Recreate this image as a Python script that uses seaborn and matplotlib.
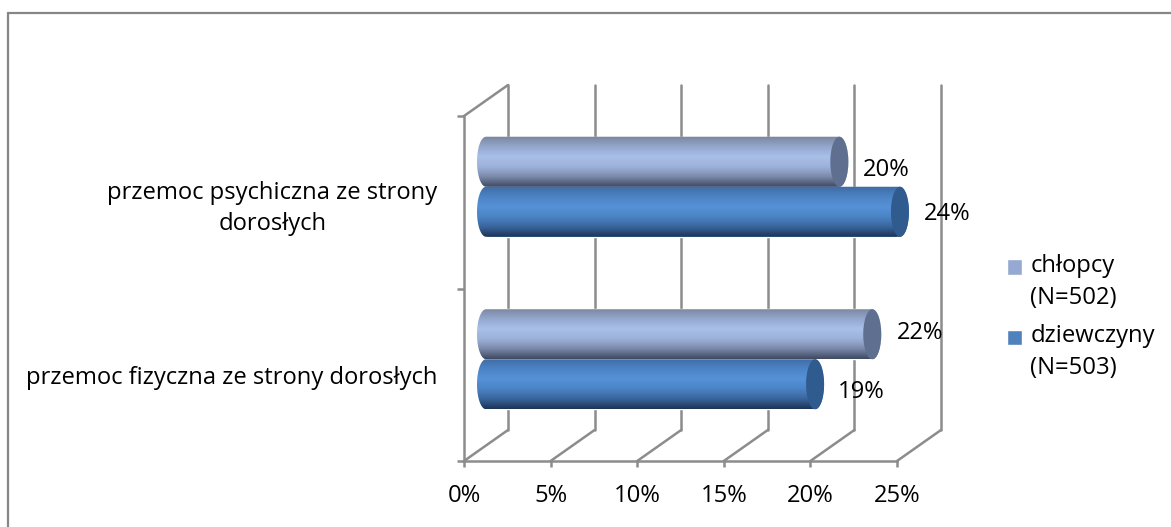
import numpy as np
import pandas as pd
import matplotlib
matplotlib.use("Agg")
import matplotlib.pyplot as plt
import seaborn as sns
from matplotlib.colors import LinearSegmentedColormap
from matplotlib.lines import Line2D
from matplotlib.path import Path
from matplotlib.patches import Ellipse
from matplotlib.transforms import Affine2D

sns.set_theme(style="white")
plt.rcParams['font.family'] = ['Open Sans', 'DejaVu Sans']

# data
categories = ["przemoc psychiczna ze strony\ndorosłych", "przemoc fizyczna ze strony dorosłych"]
series_names = ["chłopcy\n(N=502)", "dziewczyny\n(N=503)"]
chlopcy = [20.4, 22.3]
dziewczyny = [23.9, 19.0]
xticks = [0, 5, 10, 15, 20, 25]

# style
W, H = 1171, 527
gray = '#8c8c8c'
base_colors = ['#95a9d2', '#4f81bd']
cap_colors = ['#5f6f8f', '#2f5b8f']
shades = [
    ['#7b86a0', '#93a6cc', '#a9c0ea', '#9db2da', '#7c8aab', '#3f4a63'],
    ['#3f6ca5', '#4c83c4', '#5691d8', '#4c84c6', '#3a669e', '#1d3557'],
]
fs = 17.1
lw = 1.8
depth = (44, 31)  # px, back wall offset
cap_w = 0.52      # half width of the end ellipse in axis units

df = pd.DataFrame({
    'cat': categories * 2,
    'val': chlopcy + dziewczyny,
    'who': [series_names[0]] * 2 + [series_names[1]] * 2,
})

fig = plt.figure(figsize=(W / 100, H / 100), dpi=100)
ax = fig.add_axes([464 / W, (H - 461) / H, 433 / W, 345 / H])

sns.barplot(data=df, y='cat', x='val', hue='who', order=categories, hue_order=series_names,
            palette=base_colors, width=0.58, gap=0, saturation=1, ax=ax, errorbar=None, zorder=3)

ax.set_xlim(0, 25)
ax.set_ylim(1.5, -0.5)
ax.set_xlabel("")
ax.set_ylabel("")

shift_back = ax.transData + Affine2D().translate(depth[0], depth[1])
shift_mid = ax.transData + Affine2D().translate(depth[0] / 2, depth[1] / 2)

# walls and floor lines
for x in xticks:
    ax.plot([x, x], [1.5, -0.5], color=gray, lw=lw, transform=shift_back, clip_on=False, zorder=1)
    ax.plot([x, x + 44 / 17.32], [1.5, 1.5 - 31 / 172.5], color=gray, lw=lw, clip_on=False, zorder=1)
ax.plot([0, 44 / 17.32], [-0.5, -0.5 - 31 / 172.5], color=gray, lw=lw, clip_on=False, zorder=1)

# cylinders on top of the seaborn bars
label_offsets = [[(15, -8), (15, -2)], [(16, 1), (14, -8)]]
for i, cont in enumerate(ax.containers):
    cmap = LinearSegmentedColormap.from_list(f"c{i}", shades[i])
    grad = np.linspace(0, 1, 64).reshape(-1, 1)
    for j, bar in enumerate(cont):
        bar.set_transform(shift_mid)
        y0, h = bar.get_y(), bar.get_height()
        v = bar.get_width()
        yc = y0 + h / 2
        t = np.linspace(np.pi / 2, 3 * np.pi / 2, 30)
        t2 = np.linspace(-np.pi / 2, np.pi / 2, 30)
        vx = np.r_[cap_w * np.cos(t), v + cap_w * np.cos(t2), 0]
        vy = np.r_[yc - h / 2 * np.sin(t), yc - h / 2 * np.sin(t2), yc - h / 2]
        im = ax.imshow(grad, cmap=cmap, aspect='auto', origin='upper', interpolation='bilinear',
                       extent=(-cap_w, v + cap_w, y0 + h, y0), zorder=3.2 + 0.1 * j)
        im.set_transform(shift_mid)
        im.set_clip_box(fig.bbox)
        im.set_clip_path(Path(np.c_[vx, vy]), shift_mid)
        cap = Ellipse((v, yc), 2 * cap_w, h, facecolor=cap_colors[i], edgecolor='none',
                      transform=shift_mid, clip_on=False, zorder=3.25 + 0.1 * j)
        ax.add_patch(cap)
        ax.annotate(f"{round(v)}%", xy=(v + cap_w, yc), xycoords=shift_mid,
                    xytext=label_offsets[j][i], textcoords='offset pixels',
                    ha='left', va='center', fontsize=fs, color='black', zorder=6)

ax.set_xlim(0, 25)
ax.set_ylim(1.5, -0.5)

# axes
for s in ['top', 'right']:
    ax.spines[s].set_visible(False)
for s in ['left', 'bottom']:
    ax.spines[s].set_color(gray)
    ax.spines[s].set_linewidth(lw)
ax.set_xticks(xticks)
ax.set_xticklabels([f"{x}%" for x in xticks], fontsize=fs, color='black')
ax.set_yticks([-0.5, 0.5, 1.5])
ax.set_yticklabels([])
ax.set_yticks([0, 1], labels=categories, minor=True)
ax.tick_params(axis='x', bottom=True, length=4, width=lw, color=gray, pad=12.5)
ax.tick_params(axis='y', which='major', left=True, length=5, width=lw, color=gray)
ax.tick_params(axis='y', which='minor', left=False, length=0, pad=19)
for lab in ax.get_yticklabels(minor=True):
    lab.set_fontsize(fs)
    lab.set_color('black')
    lab.set_multialignment('center')
    lab.set_linespacing(1.38)

# legend
leg = ax.legend(loc='upper left', bbox_to_anchor=(1007 / W, (H - 254) / H), bbox_transform=fig.transFigure,
                frameon=False, fontsize=fs, handlelength=0.64, handleheight=0.64, handletextpad=0.34,
                labelspacing=0.6, borderaxespad=0, borderpad=0)
for txt in leg.get_texts():
    txt.set_linespacing(1.44)
    txt.set_color('black')
# squares sit next to the first line of each label
for p in leg.get_patches():
    p.set_y(p.get_y() + 11)

# outer frame, only top and left show in the crop
for xs, ys in [((8, 8), (0, H - 13)), ((8, W), (H - 13, H - 13))]:
    fig.add_artist(Line2D([a / W for a in xs], [b / H for b in ys], color='#868686', lw=1.6))

fig.savefig("out.png", dpi=100)
